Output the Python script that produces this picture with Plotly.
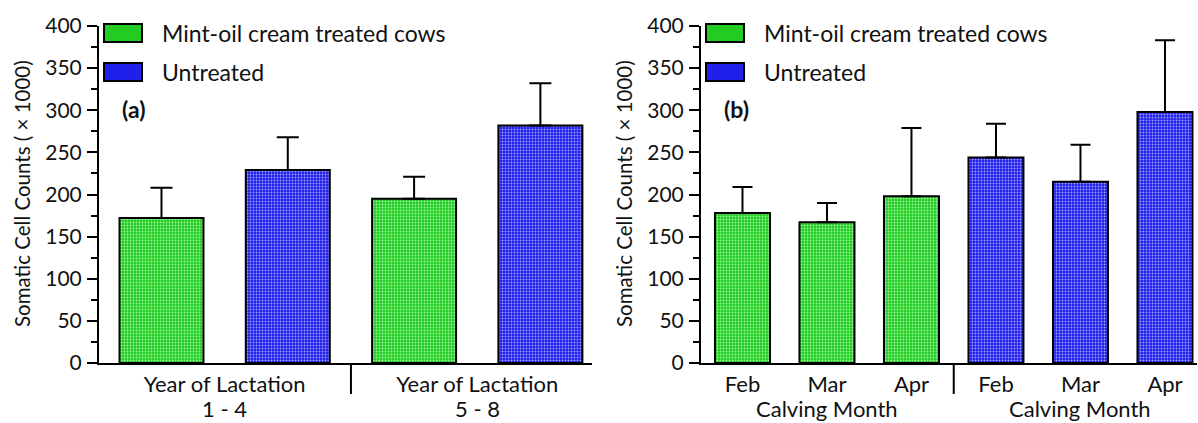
import plotly.graph_objects as go

# ---------------- data ----------------
series_names = ["Mint-oil cream treated cows", "Untreated"]

# Panel (a): year of lactation
lactation_groups = ["1 - 4", "5 - 8"]
lactation_label = "Year of Lactation"
treated_lact = [172, 195]
treated_lact_err = [36, 26]
untreated_lact = [229, 282]
untreated_lact_err = [39, 50]

# Panel (b): calving month
months = ["Feb", "Mar", "Apr"]
month_label = "Calving Month"
treated_month = [178, 167, 198]
treated_month_err = [31, 23, 81]
untreated_month = [244, 215, 298]
untreated_month_err = [40, 44, 85]

y_ticks = [0, 50, 100, 150, 200, 250, 300, 350, 400]
y_title = "Somatic Cell Counts ( \u00d7 1000)"
panel_tags = ["(a)", "(b)"]

# ---------------- style ----------------
W, H = 1198, 423
FONT = "Lato"
GREEN, GREEN_DOT = "#22cc22", "#a0f5a0"
BLUE, BLUE_DOT = "#2020ea", "#a0a0ff"
TXT = "#111111"
XFS = 22

def px_x(p):
    return p / W

def px_y(p):
    return 1 - p / H

y_dom = [px_y(363), px_y(26)]
xa_dom = [px_x(99), px_x(592)]
xb_dom = [px_x(701), px_x(1197)]

fig = go.Figure()

def bar(x, y, err, color, dot, name, xaxis, width, capw):
    return go.Bar(
        x=x, y=y, name=name, xaxis=xaxis, yaxis="y" if xaxis == "x" else "y2",
        width=width,
        marker=dict(color=color, line=dict(color="black", width=2),
                    pattern=dict(shape=".", bgcolor=color, fgcolor=dot,
                                 size=3, solidity=0.3, fillmode="replace")),
        error_y=dict(type="data", array=err, arrayminus=[0] * len(err),
                     symmetric=False, color="black", thickness=2, width=capw),
        showlegend=False,
    )

# panel (a): groups g, series s -> x = 2g + s
xa_t = [2 * g for g in range(len(lactation_groups))]
xa_u = [2 * g + 1 for g in range(len(lactation_groups))]
fig.add_trace(bar(xa_t, treated_lact, treated_lact_err, GREEN, GREEN_DOT, series_names[0], "x", 0.665, 11))
fig.add_trace(bar(xa_u, untreated_lact, untreated_lact_err, BLUE, BLUE_DOT, series_names[1], "x", 0.665, 11))

# panel (b): series s, month m -> x = 3s + m
xb_t = [m for m in range(len(months))]
xb_u = [3 + m for m in range(len(months))]
fig.add_trace(bar(xb_t, treated_month, treated_month_err, GREEN, GREEN_DOT, series_names[0], "x2", 0.651, 10))
fig.add_trace(bar(xb_u, untreated_month, untreated_month_err, BLUE, BLUE_DOT, series_names[1], "x2", 0.651, 10))

yaxis_common = dict(
    range=[0, 400], tickvals=y_ticks, ticks="outside", ticklen=10, tickwidth=2,
    tickcolor="black", showline=True, linewidth=2, linecolor="black",
    showgrid=False, zeroline=False, tickfont=dict(family=FONT, size=21, color=TXT),
    ticklabelstandoff=1, automargin=False,
    minor=dict(dtick=25, ticks="outside", ticklen=6, tickwidth=2, tickcolor="black", showgrid=False),
    domain=y_dom, fixedrange=True,
)
xaxis_common = dict(
    showline=True, linewidth=2, linecolor="black", showgrid=False, zeroline=False,
    ticks="", tickfont=dict(family=FONT, size=XFS, color=TXT), ticklabelstandoff=1,
    automargin=False, fixedrange=True,
)

fig.update_layout(
    template="none",
    width=W, height=H, margin=dict(l=0, r=0, t=0, b=0, pad=0, autoexpand=False),
    paper_bgcolor="white", plot_bgcolor="white", barmode="overlay",
    font=dict(family=FONT, color=TXT),
    xaxis=dict(xaxis_common, domain=xa_dom, range=[-0.4948, 3.4086],
               tickvals=[0.5, 2.5], ticktext=[lactation_label] * 2, anchor="y"),
    yaxis=dict(yaxis_common, anchor="x"),
    xaxis2=dict(xaxis_common, domain=xb_dom, range=[-0.491, 5.379],
                tickvals=list(range(6)), ticktext=months * 2, anchor="y2"),
    yaxis2=dict(yaxis_common, anchor="x2"),
)

shapes = []
annotations = []

# group labels (second row) and separators
for g, lab in enumerate(lactation_groups):
    annotations.append(dict(x=2 * g + 0.5, xref="x", y=px_y(408), yref="paper",
                            text=lab, showarrow=False, xanchor="center", yanchor="middle",
                            font=dict(family=FONT, size=XFS, color=TXT)))
for s in range(2):
    annotations.append(dict(x=3 * s + 1, xref="x2", y=px_y(408), yref="paper",
                            text=month_label, showarrow=False, xanchor="center", yanchor="middle",
                            font=dict(family=FONT, size=XFS, color=TXT)))
shapes.append(dict(type="line", xref="x", yref="paper", x0=1.5, x1=1.5,
                   y0=px_y(363), y1=px_y(394), line=dict(color="black", width=2)))
shapes.append(dict(type="line", xref="x2", yref="paper", x0=2.5, x1=2.5,
                   y0=px_y(363), y1=px_y(394), line=dict(color="black", width=2)))

# legends, tags, y titles for both panels
for off, tag in zip([0, 602], panel_tags):
    for i, (c, name) in enumerate(zip([GREEN, BLUE], series_names)):
        top = 24 + 39 * i
        shapes.append(dict(type="rect", xref="paper", yref="paper",
                           x0=px_x(104 + off), x1=px_x(142 + off),
                           y0=px_y(top + 18), y1=px_y(top),
                           fillcolor=c, line=dict(color="black", width=2)))
        annotations.append(dict(x=px_x(160 + off), xref="paper", y=px_y(top + 9), yref="paper",
                                text=name, showarrow=False, xanchor="left", yanchor="middle",
                                font=dict(family=FONT, size=23, color=TXT)))
    annotations.append(dict(x=px_x(120 + off), xref="paper", y=px_y(109), yref="paper",
                            text="<b>" + tag + "</b>", showarrow=False, xanchor="left",
                            yanchor="middle", font=dict(family=FONT, size=23, color=TXT)))
    annotations.append(dict(x=px_x(22 + off), xref="paper", y=px_y(194), yref="paper",
                            text=y_title, textangle=-90, showarrow=False,
                            xanchor="center", yanchor="middle",
                            font=dict(family=FONT, size=20.5, color=TXT)))

fig.update_layout(shapes=shapes, annotations=annotations)
fig.write_html("out.html", config={"displayModeBar": False},
               post_script="document.body.style.margin='0';document.body.style.overflow='hidden';")
